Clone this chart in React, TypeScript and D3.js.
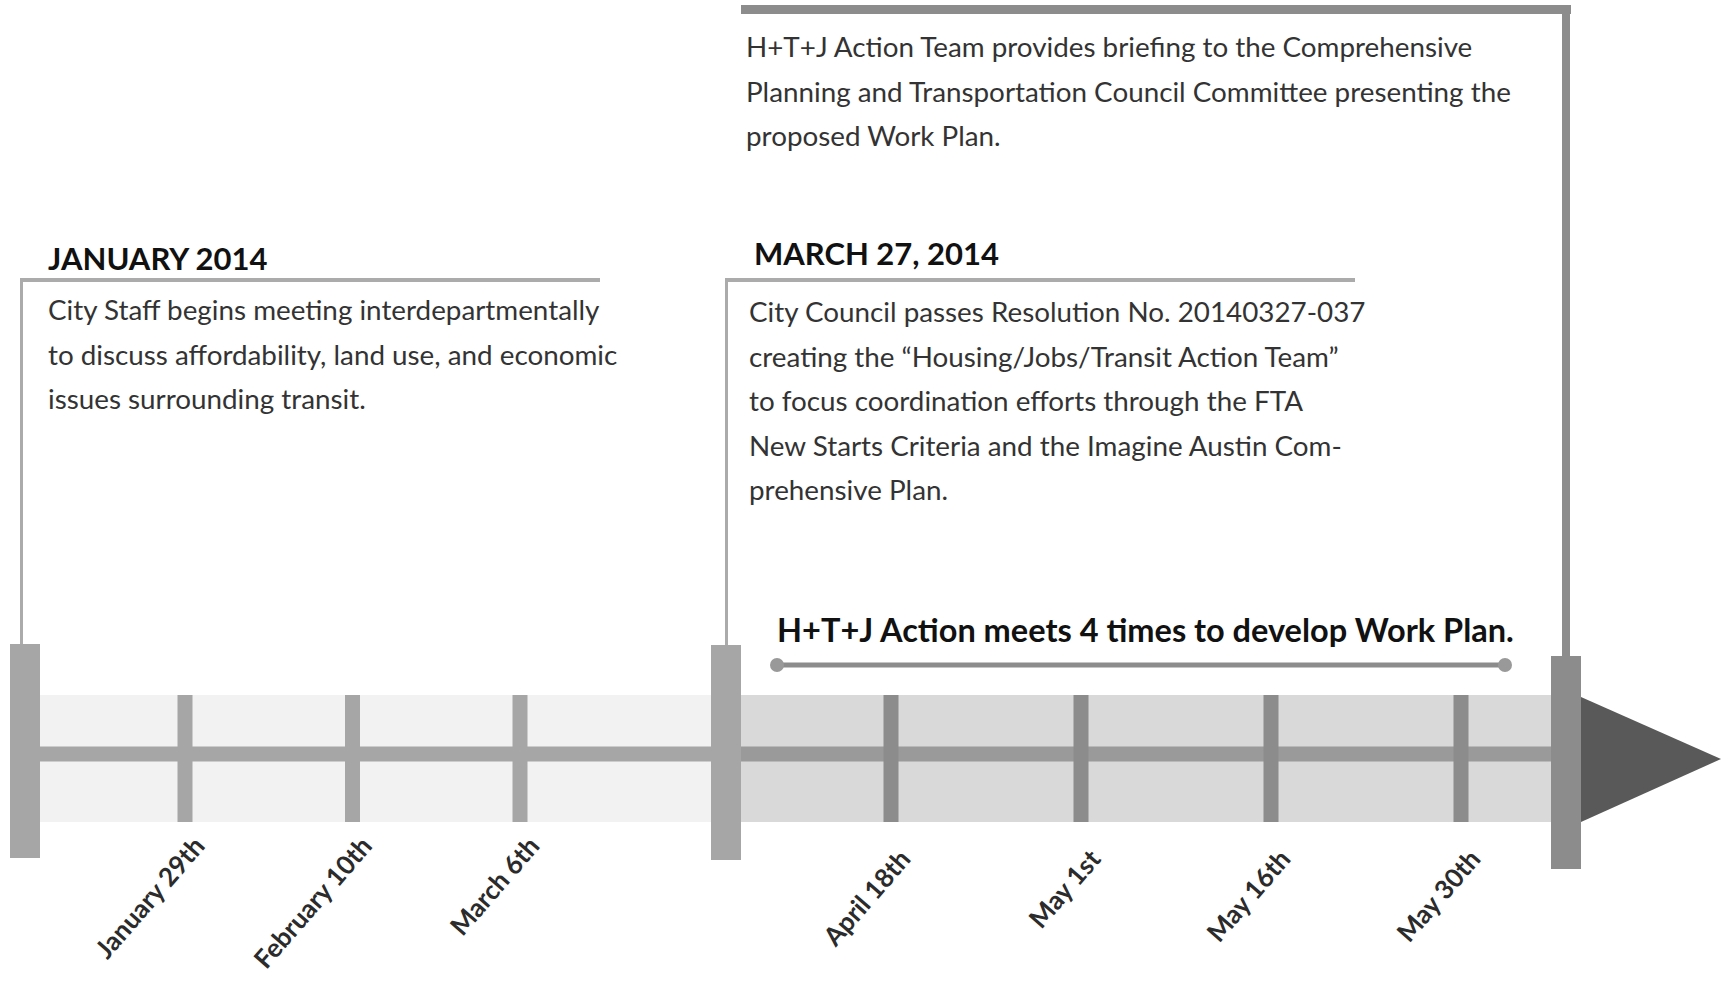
import React, { useEffect } from 'react';
import * as d3 from 'd3';

// milestones on the timeline (big bars)
const milestones = ['January 2014', 'March 27, 2014', 'June 2014'];
const milestoneHeads = ['JANUARY 2014', 'MARCH 27, 2014', ''];

// small meeting ticks before / after the resolution
const earlyTicks = ['January 29th', 'February 10th', 'March 6th'];
const lateTicks = ['April 18th', 'May 1st', 'May 16th', 'May 30th'];

const janText = [
  'City Staff begins meeting interdepartmentally',
  'to discuss affordability, land use, and economic',
  'issues surrounding transit.',
];
const marchText = [
  'City Council passes Resolution No. 20140327-037',
  'creating the \u201cHousing/Jobs/Transit Action Team\u201d',
  'to focus coordination efforts through the FTA',
  'New Starts Criteria and the Imagine Austin Com-',
  'prehensive Plan.',
];
const juneText = [
  'H+T+J Action Team provides briefing to the Comprehensive',
  'Planning and Transportation Council Committee presenting the',
  'proposed Work Plan.',
];
const bracketLabel = 'H+T+J Action meets 4 times to develop Work Plan.';

const W = 1725;
const H = 981;
const FONT = 'Lato, "Open Sans", sans-serif';

export default function App() {
  useEffect(() => {
    document.body.style.margin = '0';
  }, []);

  const xMile = d3.scaleOrdinal<string, number>().domain(milestones).range([25, 726, 1566]);
  const xEarly = d3.scalePoint<string>().domain(earlyTicks).range([185, 520]);
  const xLate = d3.scalePoint<string>().domain(lateTicks).range([891, 1461]);

  const bandTop = 695;
  const bandH = 127;
  const lineY = 754;
  const barW = 30;
  const tickW = 15;
  const lineH = 44.5;

  const m0 = xMile(milestones[0]);
  const m1 = xMile(milestones[1]);
  const m2 = xMile(milestones[2]);

  const arrow = d3.line()([
    [m2 + barW / 2, bandTop + 2],
    [m2 + barW / 2, bandTop + bandH],
    [W - 4, lineY + 5],
  ]) + 'Z';

  const dateLabel = (label: string, x: number, y: number) => (
    <text
      key={label}
      transform={`translate(${x + 21},${y}) rotate(-49)`}
      textAnchor="end"
      fontFamily={FONT}
      fontWeight="bold"
      fontSize={26}
      fill="#2b2b2b"
    >
      {label}
    </text>
  );

  return (
    <svg width={W} height={H} style={{ display: 'block', background: '#fff' }}>
      {/* bands */}
      <rect x={m0} y={bandTop} width={m1 - m0} height={bandH} fill="#f2f2f2" />
      <rect x={m1} y={bandTop} width={m2 - m1} height={bandH} fill="#d9d9d9" />
      {/* centre line */}
      <rect x={m0} y={lineY - 7.5} width={m1 - m0} height={15} fill="#a6a6a6" />
      <rect x={m1} y={lineY - 7.5} width={m2 - m1} height={15} fill="#9a9a9a" />

      {/* ticks */}
      {earlyTicks.map((t) => (
        <rect key={t} x={xEarly(t)! - tickW / 2} y={bandTop} width={tickW} height={bandH} fill="#a6a6a6" />
      ))}
      {lateTicks.map((t) => (
        <rect key={t} x={xLate(t)! - tickW / 2} y={bandTop} width={tickW} height={bandH} fill="#8c8c8c" />
      ))}

      {/* arrow head */}
      <path d={arrow} fill="#595959" />

      {/* top box (June) */}
      <rect x={741} y={5} width={m2 + 5 - 741} height={9} fill="#8c8c8c" />
      <rect x={m2 - 4} y={5} width={8} height={660} fill="#8c8c8c" />

      {/* Jan box */}
      <rect x={m0 - 5} y={278} width={580} height={4} fill="#ababab" />
      <rect x={m0 - 5} y={278} width={3} height={370} fill="#ababab" />
      {/* March box */}
      <rect x={m1 - 1} y={278} width={630} height={4} fill="#ababab" />
      <rect x={m1 - 1} y={278} width={3} height={370} fill="#ababab" />

      {/* milestone bars */}
      <rect x={m0 - barW / 2} y={644} width={barW} height={214} fill="#a6a6a6" />
      <rect x={m1 - barW / 2} y={645} width={barW} height={215} fill="#a6a6a6" />
      <rect x={m2 - barW / 2} y={656} width={barW} height={213} fill="#8c8c8c" />

      {/* headings */}
      <text x={48} y={270} fontFamily={FONT} fontWeight="bold" fontSize={31} fill="#111">
        {milestoneHeads[0]}
      </text>
      <text x={754} y={265} fontFamily={FONT} fontWeight="bold" fontSize={31} fill="#111">
        {milestoneHeads[1]}
      </text>

      {/* body texts */}
      <g fontFamily={FONT} fontSize={27.8} fill="#333">
        {janText.map((s, i) => (
          <text key={s} x={48} y={320 + i * lineH}>{s}</text>
        ))}
        {marchText.map((s, i) => (
          <text key={s} x={749} y={322 + i * lineH}>{s}</text>
        ))}
        {juneText.map((s, i) => (
          <text key={s} x={746} y={57 + i * lineH}>{s}</text>
        ))}
      </g>

      {/* work plan bracket */}
      <text x={777} y={642} fontFamily={FONT} fontWeight="bold" fontSize={32.5} fill="#111">
        {bracketLabel}
      </text>
      <line x1={777} x2={1505} y1={665} y2={665} stroke="#8c8c8c" strokeWidth={5} />
      <circle cx={777} cy={665} r={7} fill="#999" />
      <circle cx={1505} cy={665} r={7} fill="#999" />

      {/* date labels */}
      {earlyTicks.map((t) => dateLabel(t, xEarly(t)!, 847))}
      {lateTicks.map((t) => dateLabel(t, xLate(t)!, 860))}
    </svg>
  );
}
